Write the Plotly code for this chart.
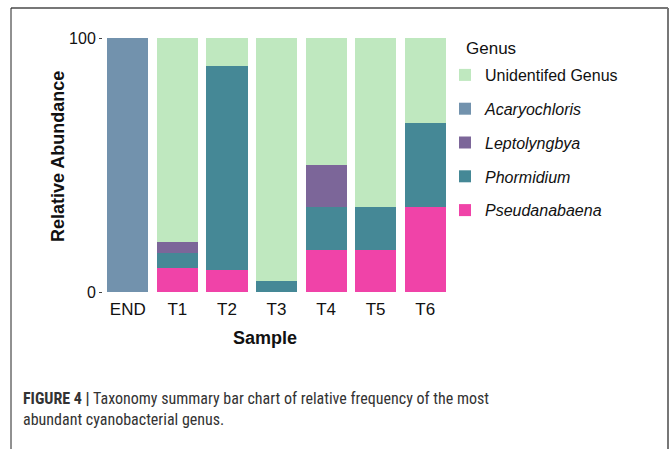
import plotly.graph_objects as go

samples = ["END", "T1", "T2", "T3", "T4", "T5", "T6"]
pseudanabaena = [0, 9.5, 8.5, 0, 16.7, 16.6, 33.3]
phormidium = [0, 6.0, 80.5, 4.4, 16.6, 16.7, 33.3]
leptolyngbya = [0, 4.0, 0, 0, 16.7, 0, 0]
acaryochloris = [100, 0, 0, 0, 0, 0, 0]
unidentified = [0, 80.5, 11.0, 95.6, 50.0, 66.7, 33.4]

series = [
    ("<i>Pseudanabaena</i>", pseudanabaena, "#f043a8"),
    ("<i>Phormidium</i>", phormidium, "#458896"),
    ("<i>Leptolyngbya</i>", leptolyngbya, "#7c6699"),
    ("<i>Acaryochloris</i>", acaryochloris, "#7292ad"),
    ("Unidentifed Genus", unidentified, "#bfe8bf"),
]

W, H = 670, 449
L, R, T, B = 103, 220, 38, 157
pw, ph = W - L - R, H - T - B

def px(x):
    return (x - L) / pw

def py(y):
    return (H - B - y) / ph

FONT = "Liberation Sans, Arial, sans-serif"

fig = go.Figure()
n = len(series)
for i, (name, vals, col) in enumerate(series):
    fig.add_trace(go.Bar(x=samples, y=vals, name=name, marker=dict(color=col, line=dict(width=0)),
                         legendgroup=str(i), legendrank=n - i))

shapes = [
    dict(type="line", xref="paper", yref="paper", x0=px(11), x1=px(668), y0=py(8), y1=py(8),
         line=dict(color="#777777", width=2)),
    dict(type="line", xref="paper", yref="paper", x0=px(11), x1=px(11), y0=py(8), y1=py(460),
         line=dict(color="#222222", width=1)),
    dict(type="line", xref="paper", yref="paper", x0=px(668), x1=px(668), y0=py(8), y1=py(460),
         line=dict(color="#777777", width=2)),
]

annotations = [
    dict(text="<b>Relative Abundance</b>", xref="paper", yref="paper", x=px(58), y=py(157),
         textangle=-90, showarrow=False, font=dict(size=18, color="#111111", family=FONT),
         xanchor="center", yanchor="middle"),
    dict(text="<b>Sample</b>", xref="paper", yref="paper", x=px(265), y=py(338),
         showarrow=False, font=dict(size=18, color="#111111", family=FONT),
         xanchor="center", yanchor="middle"),
    dict(text="Genus", xref="paper", yref="paper", x=px(464), y=py(48),
         showarrow=False, font=dict(size=17, color="#111111", family=FONT),
         xanchor="left", yanchor="middle"),
    dict(text="<b>FIGURE 4 |</b> Taxonomy summary bar chart of relative frequency of the most<br>abundant cyanobacterial genus.",
         xref="paper", yref="paper", x=px(21), y=py(387), showarrow=False, align="left",
         font=dict(size=16, color="#333333", family="Liberation Sans Narrow, Arial Narrow, Roboto Condensed, sans-serif"),
         xanchor="left", yanchor="top"),
]

fig.update_layout(
    width=W, height=H,
    margin=dict(l=L, r=R, t=T, b=B, autoexpand=False),
    barmode="stack", bargap=0.17,
    paper_bgcolor="white", plot_bgcolor="white",
    font=dict(family=FONT, size=16, color="#222222"),
    showlegend=True,
    legend=dict(traceorder="grouped", tracegroupgap=10, x=px(445), y=py(58),
                xanchor="left", yanchor="top", font=dict(size=16, color="#111111"),
                bgcolor="rgba(0,0,0,0)", itemwidth=30),
    shapes=shapes, annotations=annotations,
    xaxis=dict(range=[-0.5, 6.5], showgrid=False, zeroline=False, showline=False,
               ticks="", ticklabelstandoff=5, tickfont=dict(size=17, color="#111111")),
    yaxis=dict(range=[0, 100], tickvals=[0, 100], ticktext=["0", "100"], showgrid=False,
               zeroline=False, showline=False, ticks="outside", ticklen=3, tickcolor="#444444",
               tickfont=dict(size=16, color="#111111")),
)

fig.write_html("out.html", config={"displayModeBar": False},
               post_script="document.body.style.margin='0';document.body.style.overflow='hidden';")
